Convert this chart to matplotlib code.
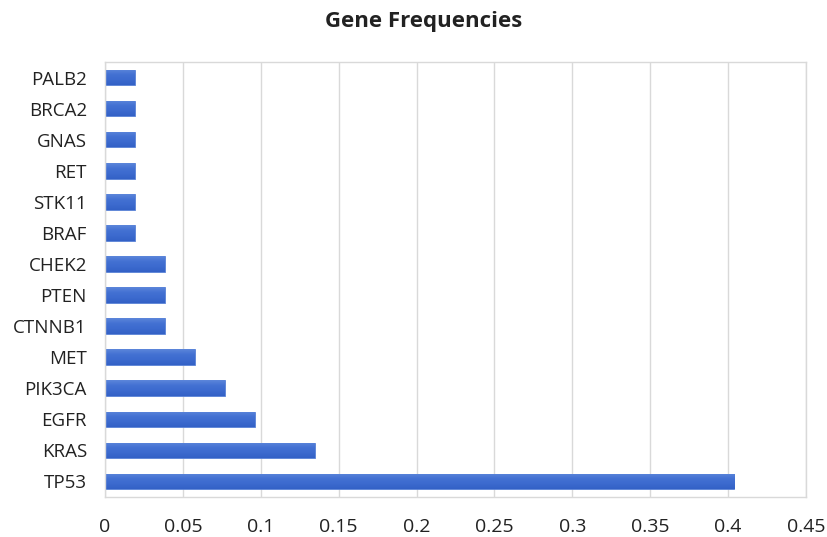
import numpy as np
import matplotlib.pyplot as plt
from matplotlib.colors import LinearSegmentedColormap

plt.rcParams['font.family'] = ['Open Sans', 'DejaVu Sans']

# Gene frequencies (bottom to top as drawn)
genes = ['TP53', 'KRAS', 'EGFR', 'PIK3CA', 'MET', 'CTNNB1', 'PTEN',
         'CHEK2', 'BRAF', 'STK11', 'RET', 'GNAS', 'BRCA2', 'PALB2']
freqs = [0.4038, 0.1346, 0.0962, 0.0769, 0.0577, 0.0385, 0.0385,
         0.0385, 0.0192, 0.0192, 0.0192, 0.0192, 0.0192, 0.0192]
xticks = [0, 0.05, 0.1, 0.15, 0.2, 0.25, 0.3, 0.35, 0.4, 0.45]
xticklabels = ['0', '0.05', '0.1', '0.15', '0.2', '0.25', '0.3', '0.35', '0.4', '0.45']

fig = plt.figure(figsize=(8.28, 5.37), dpi=100)
ax = fig.add_axes([105/828, 1 - 497/537, 701/828, 435/537])

ypos = np.arange(len(genes))
bars = ax.barh(ypos, freqs, height=0.5, color='#3d6bd0', edgecolor='#5a82d6',
               linewidth=0.6, zorder=2)

# Excel-like vertical gradient inside each bar
grad = LinearSegmentedColormap.from_list('g', ['#3361c6', '#3c6ace', '#4371d3', '#5c86da'])
g = np.linspace(0, 1, 64).reshape(-1, 1)
for b in bars:
    x0, y0 = b.get_x(), b.get_y()
    w, h = b.get_width(), b.get_height()
    im = ax.imshow(g, extent=(x0, x0 + w, y0, y0 + h), origin='lower',
                   cmap=grad, aspect='auto', zorder=2.5)
    im.set_clip_path(b)

ax.set_xlim(0, 0.45)
ax.set_ylim(-0.5, len(genes) - 0.5)
ax.set_yticks(ypos)
ax.set_yticklabels(genes, fontsize=13.5)
ax.set_xticks(xticks)
ax.set_xticklabels(xticklabels, fontsize=14)
ax.tick_params(axis='x', length=0, pad=15, colors='#222222')
ax.tick_params(axis='y', length=0, pad=13, colors='#222222')

ax.grid(axis='x', color='#d9d9d9', linewidth=1, zorder=0)
ax.set_axisbelow(True)
for s in ax.spines.values():
    s.set_color('#d9d9d9')
    s.set_linewidth(1)

fig.text(424/828, 1 - 22/537, 'Gene Frequencies', ha='center', va='center',
         fontsize=16, fontweight='bold', color='#222222')

fig.savefig('out.png', dpi=100, facecolor='white')
